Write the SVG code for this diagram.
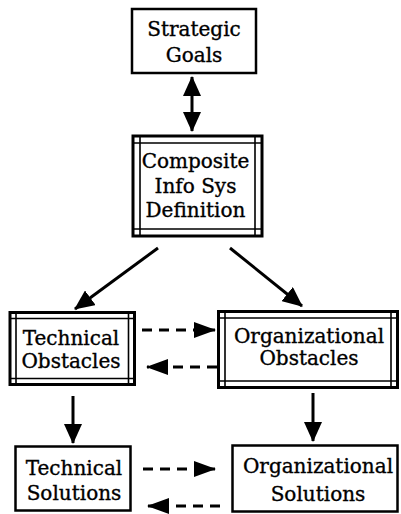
<svg xmlns="http://www.w3.org/2000/svg" width="401" height="514" viewBox="0 0 401 514">
<style>
.box{fill:#fff;stroke:#000;stroke-width:2.5}
.outer{fill:#fff;stroke:#000;stroke-width:3}
.inner{stroke:#000;stroke-width:1.6;fill:none}
.t{font-family:"DejaVu Serif","Liberation Serif",serif;font-size:20px;fill:#000;stroke:#000;stroke-width:0.35;text-anchor:middle}
.c{stroke:#000;stroke-width:3;fill:none}
.d{stroke:#000;stroke-width:3;fill:none;stroke-dasharray:10,7}
</style>
<defs>
<marker id="ah" markerUnits="userSpaceOnUse" markerWidth="20" markerHeight="18" refX="19" refY="9" orient="auto-start-reverse" viewBox="0 0 20 18">
<path d="M0,0 L20,9 L0,18 z" fill="#000" stroke="none"/>
</marker>
<marker id="ahs" markerUnits="userSpaceOnUse" markerWidth="22" markerHeight="16" refX="21" refY="8" orient="auto" viewBox="0 0 22 16">
<path d="M0,0 L22,8 L0,16 z" fill="#000" stroke="none"/>
</marker>
</defs>
<g id="strategic-goals">
<rect class="box" x="132" y="9" width="124" height="64"/>
<text class="t" x="194" y="36">Strategic</text>
<text class="t" x="194" y="62">Goals</text>
</g>
<g id="composite">
<rect class="outer" x="133" y="136" width="129" height="100"/>
<path class="inner" d="M133,143H262M133,229H262M140,136V236M255,136V236"/>
<text class="t" x="195.5" y="168">Composite</text>
<text class="t" x="195.5" y="193">Info Sys</text>
<text class="t" x="195.5" y="217">Definition</text>
</g>
<g id="technical-obstacles">
<rect class="outer" x="10" y="312.5" width="124.5" height="72"/>
<path class="inner" d="M10,318.5H134.5M10,378.5H134.5M16,312.5V384.5M128.5,312.5V384.5"/>
<text class="t" x="71" y="345">Technical</text>
<text class="t" x="71" y="368">Obstacles</text>
</g>
<g id="organizational-obstacles">
<rect class="outer" x="218.5" y="311.5" width="179" height="76"/>
<path class="inner" d="M218.5,318H397.5M218.5,381H397.5M225,311.5V387.5M391,311.5V387.5"/>
<text class="t" x="309" y="343">Organizational</text>
<text class="t" x="309" y="365">Obstacles</text>
</g>
<g id="technical-solutions">
<rect class="box" x="15.5" y="446.5" width="115" height="64"/>
<text class="t" x="74" y="475">Technical</text>
<text class="t" x="74" y="500">Solutions</text>
</g>
<g id="organizational-solutions">
<rect class="box" x="232.5" y="445.5" width="165" height="66"/>
<text class="t" x="318" y="473">Organizational</text>
<text class="t" x="318" y="501">Solutions</text>
</g>
<g id="connectors">
<line class="c" x1="192" y1="77" x2="192" y2="131" marker-start="url(#ah)" marker-end="url(#ah)"/>
<line class="c" x1="158" y1="248" x2="75" y2="309" marker-end="url(#ah)"/>
<line class="c" x1="230" y1="248" x2="302" y2="306" marker-end="url(#ah)"/>
<line class="d" x1="142" y1="330" x2="215" y2="330" marker-end="url(#ahs)"/>
<line class="d" x1="217" y1="367" x2="147" y2="367" marker-end="url(#ahs)"/>
<line class="c" x1="73" y1="396" x2="73" y2="443" marker-end="url(#ah)"/>
<line class="c" x1="313" y1="393" x2="313" y2="441" marker-end="url(#ah)"/>
<line class="d" x1="143" y1="469" x2="215" y2="469" marker-end="url(#ahs)"/>
<line class="d" x1="220" y1="506" x2="148" y2="506" marker-end="url(#ahs)"/>
</g>
</svg>
